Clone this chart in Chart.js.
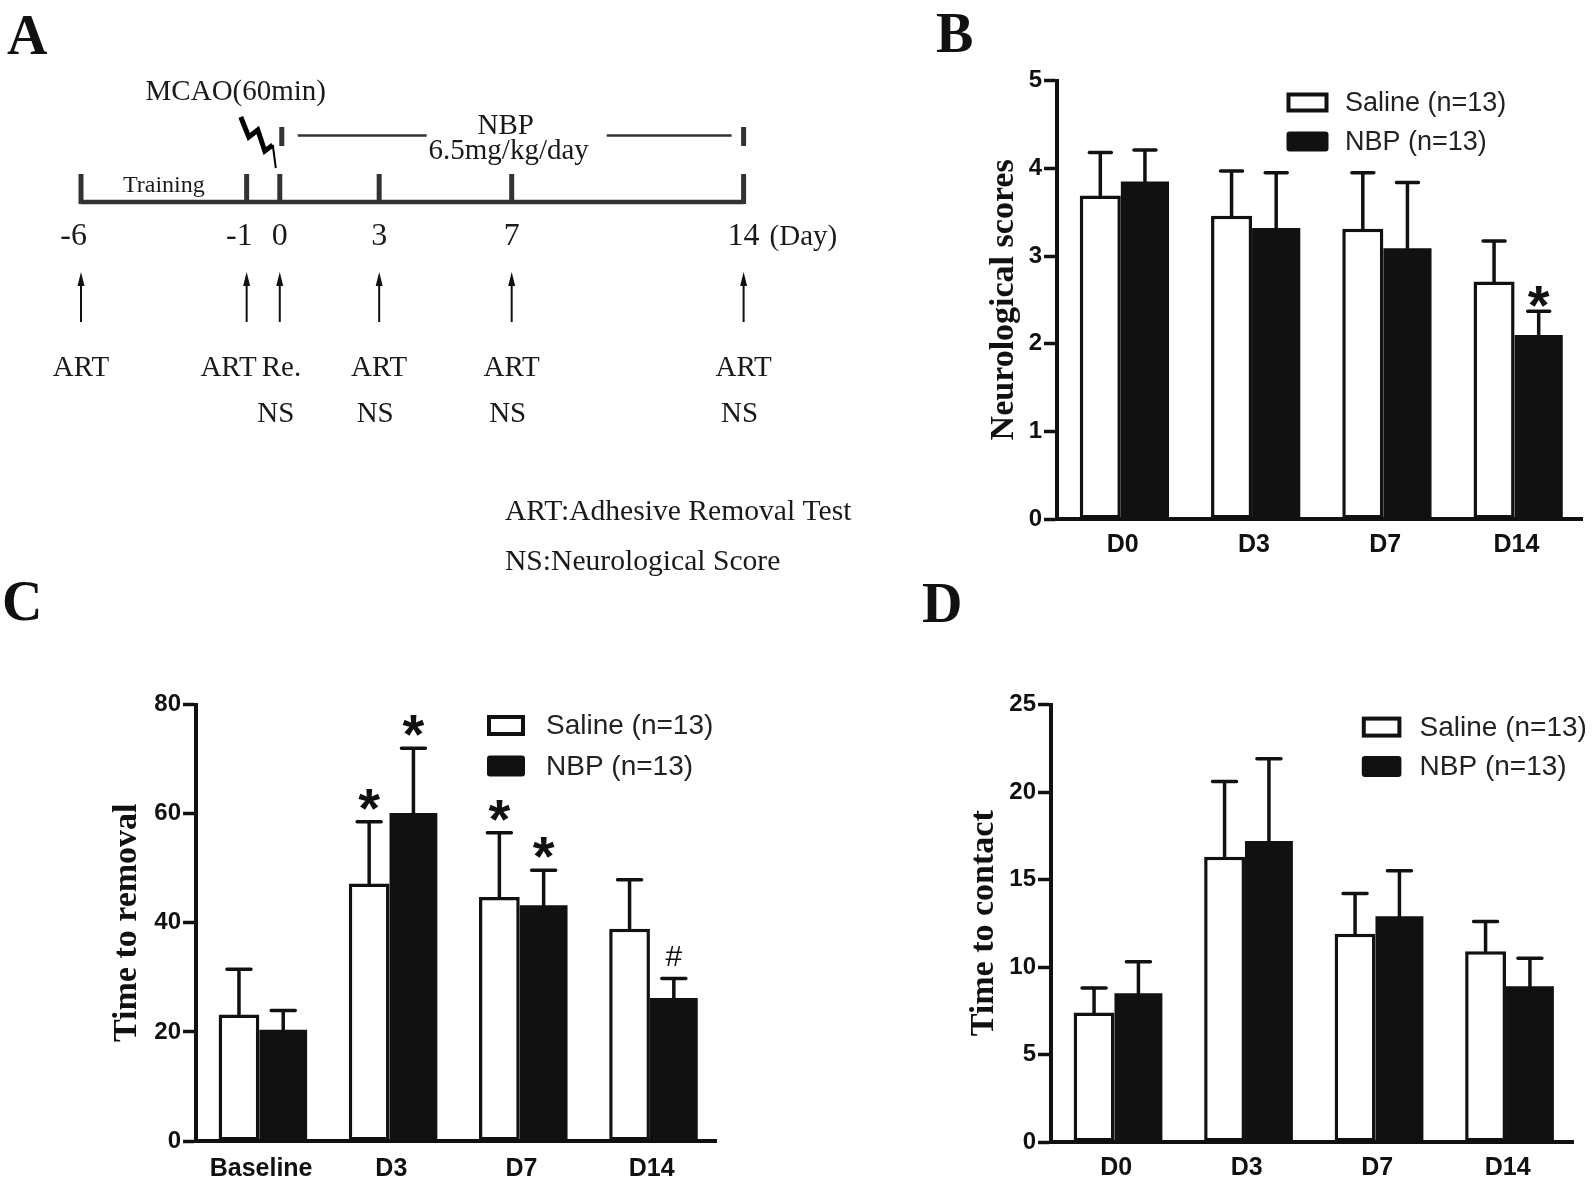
<!DOCTYPE html>
<html>
<head>
<meta charset="utf-8">
<script src="https://cdn.jsdelivr.net/npm/chart.js@4.4.1/dist/chart.umd.min.js"></script>
<style>
  body { margin: 0; background: #fff; }
  #page { position: relative; width: 1594px; height: 1178px; overflow: hidden; background: #fff; }
  canvas { position: absolute; }
  .tag { position: absolute; font: bold 56px "Liberation Serif", serif; line-height: 1; color: #111; }
</style>
</head>
<body>
<div id="page">
  <div class="tag" style="left:7px;top:7px">A</div>
  <div class="tag" style="left:936px;top:5px">B</div>
  <div class="tag" style="left:2px;top:573px">C</div>
  <div class="tag" style="left:922px;top:575px">D</div>
  <canvas id="chartA" width="880" height="600" style="left:0;top:0"></canvas>
  <canvas id="chartB" width="694" height="580" style="left:900px;top:0"></canvas>
  <canvas id="chartC" width="780" height="598" style="left:0;top:580px"></canvas>
  <canvas id="chartD" width="714" height="598" style="left:880px;top:580px"></canvas>
</div>
<script>
// ===============================
// data - panel A (timeline)
// ===============================
const days = [-6, -1, 0, 3, 7, 14];
const dayLabels = ["-6", "-1", "0", "3", "7", "14"];
const artRow = ["ART", "ART", "Re.", "ART", "ART", "ART"];
const nsRow = ["", "", "NS", "NS", "NS", "NS"];
const trainingSpan = [-6, -1];
const nbpSpan = [0, 14];
const mcaoDay = 0;

// ===============================
// data - panel B (neurological scores)
// ===============================
const scoreLabels = ["D0", "D3", "D7", "D14"];
const scoreSaline = [3.69, 3.46, 3.31, 2.71];
const scoreSalineSem = [0.49, 0.51, 0.64, 0.46];
const scoreNbp = [3.85, 3.32, 3.09, 2.10];
const scoreNbpSem = [0.36, 0.63, 0.75, 0.27];
const scoreMarks = [{ set: 1, at: 3, text: "*" }];

// ===============================
// data - panel C (time to removal)
// ===============================
const removalLabels = ["Baseline", "D3", "D7", "D14"];
const removalSaline = [23.2, 47.2, 44.7, 38.9];
const removalSalineSem = [8.3, 11.3, 11.8, 9.0];
const removalNbp = [20.4, 60.1, 43.2, 26.2];
const removalNbpSem = [3.5, 11.9, 6.4, 3.6];
const removalMarks = [
  { set: 0, at: 1, text: "*" },
  { set: 1, at: 1, text: "*" },
  { set: 0, at: 2, text: "*" },
  { set: 1, at: 2, text: "*" },
  { set: 1, at: 3, text: "#" }
];

// ===============================
// data - panel D (time to contact)
// ===============================
const contactLabels = ["D0", "D3", "D7", "D14"];
const contactSaline = [7.4, 16.3, 11.9, 10.9];
const contactSalineSem = [1.4, 4.3, 2.3, 1.7];
const contactNbp = [8.5, 17.2, 12.9, 8.9];
const contactNbpSem = [1.8, 4.7, 2.6, 1.6];

Chart.defaults.font.family = "Liberation Sans";
Chart.defaults.color = "#111";

const SERIF = '"Liberation Serif"';

// ===============================
// timeline drawing (panel A)
// ===============================
const timelinePlugin = {
  id: "timeline",
  afterDatasetsDraw(chart) {
    const ctx = chart.ctx;
    const xs = chart.scales.x;
    const yLine = chart.scales.y.getPixelForValue(0);
    const px = d => xs.getPixelForValue(d);

    ctx.save();
    ctx.strokeStyle = "#333";
    ctx.fillStyle = "#1a1a1a";

    // day ticks
    ctx.lineWidth = 5;
    days.forEach(d => {
      ctx.beginPath();
      ctx.moveTo(px(d), yLine + 2);
      ctx.lineTo(px(d), yLine - 28);
      ctx.stroke();
    });

    // day numbers
    ctx.textBaseline = "alphabetic";
    ctx.font = "32px " + SERIF;
    dayLabels.forEach((t, i) => {
      if (t.startsWith("-")) {
        ctx.textAlign = "right";
        ctx.fillText(t, px(days[i]) + 6, yLine + 43);
      } else {
        ctx.textAlign = "center";
        ctx.fillText(t, px(days[i]), yLine + 43);
      }
    });
    ctx.font = "29px " + SERIF;
    ctx.textAlign = "left";
    ctx.fillText("(Day)", px(days[days.length - 1]) + 26, yLine + 43);

    // training label
    ctx.font = "24px " + SERIF;
    ctx.textAlign = "center";
    ctx.fillText("Training", (px(trainingSpan[0]) + px(trainingSpan[1])) / 2, yLine - 10);

    // MCAO + lightning
    const x0 = px(mcaoDay);
    ctx.font = "29px " + SERIF;
    ctx.fillText("MCAO(60min)", x0 - 44, yLine - 102);
    ctx.strokeStyle = "#000";
    ctx.lineWidth = 5;
    ctx.lineJoin = "miter";
    ctx.beginPath();
    ctx.moveTo(x0 - 39, yLine - 85);
    ctx.lineTo(x0 - 31, yLine - 65);
    ctx.lineTo(x0 - 22, yLine - 72);
    ctx.lineTo(x0 - 15, yLine - 51);
    ctx.lineTo(x0 - 7, yLine - 57);
    ctx.stroke();
    ctx.lineWidth = 2;
    ctx.beginPath();
    ctx.moveTo(x0 - 7, yLine - 57);
    ctx.lineTo(x0 - 4, yLine - 34);
    ctx.stroke();

    // NBP bracket
    const a = px(nbpSpan[0]), b = px(nbpSpan[1]), mid = (a + b) / 2;
    ctx.strokeStyle = "#333";
    ctx.lineWidth = 5;
    ctx.beginPath();
    ctx.moveTo(a + 2, yLine - 75); ctx.lineTo(a + 2, yLine - 56);
    ctx.moveTo(b, yLine - 75); ctx.lineTo(b, yLine - 56);
    ctx.stroke();
    ctx.lineWidth = 2.5;
    ctx.beginPath();
    ctx.moveTo(a + 18, yLine - 66.5); ctx.lineTo(mid - 85, yLine - 66.5);
    ctx.moveTo(mid + 95, yLine - 66.5); ctx.lineTo(b - 12, yLine - 66.5);
    ctx.stroke();
    ctx.font = "29px " + SERIF;
    ctx.fillText("NBP", mid - 6, yLine - 68);
    ctx.fillText("6.5mg/kg/day", mid - 3, yLine - 43);

    // arrows
    ctx.strokeStyle = "#111";
    ctx.fillStyle = "#111";
    ctx.lineWidth = 2;
    days.forEach(d => {
      const x = px(d);
      ctx.beginPath();
      ctx.moveTo(x, yLine + 120);
      ctx.lineTo(x, yLine + 80);
      ctx.stroke();
      ctx.beginPath();
      ctx.moveTo(x, yLine + 70);
      ctx.lineTo(x - 3.5, yLine + 84);
      ctx.lineTo(x + 3.5, yLine + 84);
      ctx.closePath();
      ctx.fill();
    });

    // ART / NS rows
    ctx.fillStyle = "#1a1a1a";
    ctx.font = "29px " + SERIF;
    artRow.forEach((t, i) => {
      const x = px(days[i]);
      const tight = i < days.length - 1 && px(days[i + 1]) - x < 60;
      const afterTight = i > 0 && x - px(days[i - 1]) < 60;
      if (tight) {
        ctx.textAlign = "right";
        ctx.fillText(t, x + 10, yLine + 173.5);
      } else if (afterTight) {
        ctx.textAlign = "left";
        ctx.fillText(t, x - 18, yLine + 173.5);
      } else {
        ctx.textAlign = "center";
        ctx.fillText(t, x, yLine + 173.5);
      }
    });
    ctx.textAlign = "center";
    nsRow.forEach((t, i) => {
      if (t) ctx.fillText(t, px(days[i]) - 4, yLine + 220);
    });

    // key
    ctx.font = "29.6px " + SERIF;
    ctx.textAlign = "left";
    ctx.fillText("ART:Adhesive Removal Test", 505, 520);
    ctx.fillText("NS:Neurological Score", 505, 570);
    ctx.restore();
  }
};

new Chart(document.getElementById("chartA"), {
  type: "line",
  data: {
    datasets: [{
      data: days.map(d => ({ x: d, y: 0 })),
      borderColor: "#333",
      borderWidth: 4.5,
      pointRadius: 0,
      tension: 0
    }]
  },
  options: {
    responsive: false,
    animation: false,
    events: [],
    layout: { padding: { left: 81, right: 136.4, top: 152, bottom: 348 } },
    scales: {
      x: { type: "linear", display: false, min: -6, max: 14 },
      y: { display: false, min: -1, max: 1 }
    },
    plugins: { legend: { display: false }, tooltip: { enabled: false } }
  },
  plugins: [timelinePlugin]
});

// ===============================
// error bars + significance marks
// ===============================
const errorBarPlugin = {
  id: "errorBars",
  afterDatasetsDraw(chart, args, opts) {
    const ctx = chart.ctx;
    const ys = chart.scales.y;
    ctx.save();
    ctx.strokeStyle = "#111";
    ctx.lineWidth = 3.5;
    ctx.lineCap = "round";
    const tops = [];
    chart.data.datasets.forEach((ds, i) => {
      tops[i] = [];
      chart.getDatasetMeta(i).data.forEach((bar, j) => {
        const top = ys.getPixelForValue(ds.data[j] + ds.sem[j]);
        tops[i][j] = { x: bar.x, y: top };
        ctx.beginPath();
        ctx.moveTo(bar.x, bar.y);
        ctx.lineTo(bar.x, top);
        ctx.moveTo(bar.x - opts.cap / 2, top);
        ctx.lineTo(bar.x + opts.cap / 2, top);
        ctx.stroke();
      });
    });

    ctx.fillStyle = "#111";
    ctx.textAlign = "center";
    ctx.textBaseline = "alphabetic";
    (opts.marks || []).forEach(m => {
      const p = tops[m.set][m.at];
      ctx.font = m.text === "*" ? "bold 56px Liberation Sans" : "30px Liberation Sans";
      const mt = ctx.measureText(m.text);
      ctx.fillText(m.text, p.x, p.y - opts.gap - mt.actualBoundingBoxDescent);
    });
    ctx.restore();
  }
};

// ===============================
// boxed legend inside the plot
// ===============================
const boxLegendPlugin = {
  id: "boxLegend",
  afterDraw(chart, args, o) {
    const ctx = chart.ctx;
    ctx.save();
    chart.data.datasets.forEach((ds, i) => {
      const top = o.y + i * o.step;
      if (ds.backgroundColor === "#fff") {
        ctx.fillStyle = "#fff";
        ctx.fillRect(o.x, top, o.w, o.h);
        ctx.strokeStyle = "#111";
        ctx.lineWidth = 4;
        ctx.strokeRect(o.x + 2, top + 2, o.w - 4, o.h - 4);
      } else {
        ctx.fillStyle = ds.backgroundColor;
        ctx.beginPath();
        ctx.roundRect(o.x, top, o.w, o.h, 3);
        ctx.fill();
      }
      ctx.fillStyle = "#222";
      ctx.font = o.size + "px Liberation Sans";
      ctx.textAlign = "left";
      ctx.textBaseline = "middle";
      ctx.fillText(ds.label, o.textX, top + o.h / 2 + 1);
    });
    ctx.restore();
  }
};

// ===============================
// bar panel factory
// ===============================
function barPanel(id, p) {
  return new Chart(document.getElementById(id), {
    type: "bar",
    data: {
      labels: p.labels,
      datasets: [
        {
          label: "Saline (n=13)",
          data: p.saline,
          sem: p.salineSem,
          backgroundColor: "#fff",
          borderColor: "#111",
          borderWidth: 3.5,
          borderSkipped: false,
          categoryPercentage: 0.68,
          barPercentage: 0.92
        },
        {
          label: "NBP (n=13)",
          data: p.nbp,
          sem: p.nbpSem,
          backgroundColor: "#111",
          borderWidth: 0,
          categoryPercentage: 0.68,
          barPercentage: 1.08
        }
      ]
    },
    options: {
      responsive: false,
      animation: false,
      events: [],
      layout: { padding: { left: 0, top: p.top, right: p.right, bottom: 0 } },
      scales: {
        x: {
          grid: { display: false, drawTicks: false },
          border: { color: "#111", width: 4 },
          ticks: { color: "#111", padding: p.labelPad, font: { size: 25, weight: "bold" } },
          afterFit: s => { s.height = p.below; }
        },
        y: {
          min: 0,
          max: p.max,
          ticks: { stepSize: p.step, color: "#111", padding: 2, font: { size: 24, weight: "bold" } },
          grid: { drawOnChartArea: false, tickLength: 13, tickWidth: 3.5, tickColor: "#111" },
          border: { color: "#111", width: 4 },
          title: {
            display: true,
            text: p.title,
            color: "#111",
            font: { family: "Liberation Serif", size: 34, weight: "bold" },
            padding: { top: p.titlePad, bottom: 0 }
          },
          afterFit: s => { s.width = p.left; }
        }
      },
      plugins: {
        legend: { display: false },
        tooltip: { enabled: false },
        errorBars: { cap: p.cap, gap: p.gap, marks: p.marks },
        boxLegend: p.legend
      }
    },
    plugins: [errorBarPlugin, boxLegendPlugin]
  });
}

barPanel("chartB", {
  labels: scoreLabels, saline: scoreSaline, salineSem: scoreSalineSem,
  nbp: scoreNbp, nbpSem: scoreNbpSem, marks: scoreMarks,
  max: 5, step: 1, title: "Neurological scores",
  left: 157, top: 80.7, right: 12, below: 61, titlePad: 83.6, labelPad: 11,
  cap: 22, gap: 4,
  legend: { x: 386.5, y: 92.5, w: 42, h: 20, step: 39, textX: 445, size: 27 }
});

barPanel("chartC", {
  labels: removalLabels, saline: removalSaline, salineSem: removalSalineSem,
  nbp: removalNbp, nbpSem: removalNbpSem, marks: removalMarks,
  max: 80, step: 20, title: "Time to removal",
  left: 196, top: 124.5, right: 63.2, below: 37, titlePad: 107.1, labelPad: 13,
  cap: 24, gap: 12,
  legend: { x: 487, y: 135, w: 38, h: 21, step: 40.5, textX: 546, size: 28 }
});

barPanel("chartD", {
  labels: contactLabels, saline: contactSaline, salineSem: contactSalineSem,
  nbp: contactNbp, nbpSem: contactNbpSem, marks: [],
  max: 25, step: 5, title: "Time to contact",
  left: 171, top: 124.5, right: 21, below: 36, titlePad: 84.3, labelPad: 11,
  cap: 24, gap: 12,
  legend: { x: 481.8, y: 136.6, w: 39.6, h: 21, step: 39.4, textX: 539.6, size: 28 }
});
</script>
</body>
</html>
